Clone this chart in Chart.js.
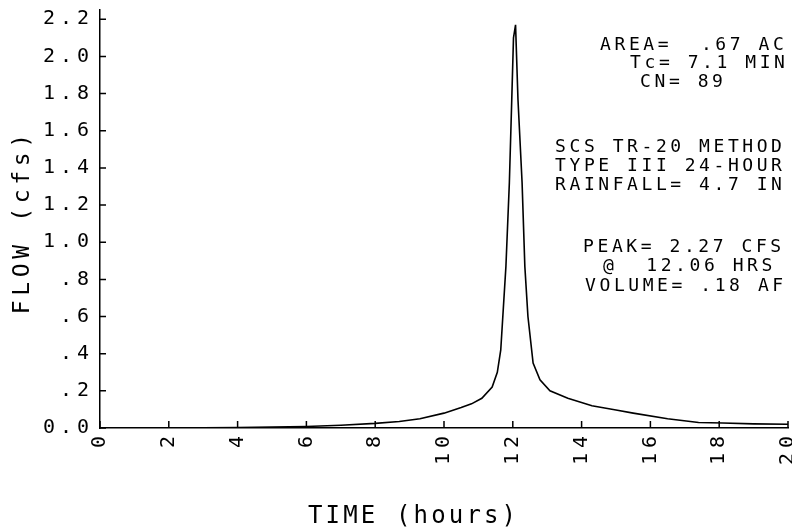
<!DOCTYPE html>
<html>
<head>
<meta charset="utf-8">
<script src="https://cdn.jsdelivr.net/npm/chart.js@4/dist/chart.umd.min.js"></script>
<style>
  body { margin: 0; background: #fff; }
  #wrap { width: 792px; height: 532px; position: relative; }
</style>
</head>
<body>
<div id="wrap"><canvas id="hydro"></canvas></div>
<script>
// hydrograph (hours, cfs)
const timeHrs = [0, 2, 4, 5, 6, 7, 8, 8.7, 9.3, 10, 10.5, 10.8, 11.1, 11.4, 11.55, 11.65,
  11.8, 11.9, 11.97, 12.02, 12.08, 12.15, 12.27, 12.35, 12.44, 12.59, 12.79, 13.08,
  13.6, 14.3, 15, 15.5, 16.5, 17.4, 18.1, 19, 20];
const flowCfs = [0, 0, 0.002, 0.005, 0.008, 0.015, 0.025, 0.035, 0.05, 0.08, 0.11, 0.13,
  0.16, 0.22, 0.3, 0.42, 0.87, 1.32, 1.77, 2.1, 2.17, 1.77, 1.32, 0.87, 0.6, 0.35, 0.26,
  0.2, 0.16, 0.12, 0.097, 0.08, 0.05, 0.03, 0.027, 0.022, 0.02];

// text block on the right
const infoLines = ['AREA=  .67 AC', 'Tc= 7.1 MIN', 'CN= 89',
  'SCS TR-20 METHOD', 'TYPE III 24-HOUR', 'RAINFALL= 4.7 IN',
  'PEAK= 2.27 CFS', '@  12.06 HRS', 'VOLUME= .18 AF'];
const infoLeft = [600, 630, 640, 555, 555, 555, 583, 603, 585];
const infoTop = [45, 63, 82, 147, 166, 185, 247, 266, 286];

const MONO = '"DejaVu Sans Mono", monospace';

// draws text one char at a time at a fixed pitch (plotter look)
function plotText(ctx, str, x, y, pitch) {
    for (let i = 0; i < str.length; i++) {
        ctx.fillText(str[i], x + i * pitch, y);
    }
}

const plotterBits = {
    id: 'plotterBits',
    beforeDraw(chart) {
        chart.ctx.letterSpacing = '5px';
    },
    afterDraw(chart) {
        const ctx = chart.ctx;
        const xs = chart.scales.x, ys = chart.scales.y;
        const area = chart.chartArea;
        ctx.save();
        ctx.letterSpacing = '0px';
        ctx.strokeStyle = '#000';
        ctx.lineWidth = 1.5;
        // tick marks point inward
        ctx.beginPath();
        ys.ticks.forEach(t => {
            const y = ys.getPixelForValue(t.value);
            ctx.moveTo(area.left, y);
            ctx.lineTo(area.left + 6, y);
        });
        xs.ticks.forEach(t => {
            const x = xs.getPixelForValue(t.value);
            ctx.moveTo(x, area.bottom);
            ctx.lineTo(x, area.bottom - 7);
        });
        ctx.stroke();

        ctx.fillStyle = '#000';
        ctx.textAlign = 'center';
        ctx.textBaseline = 'middle';
        ctx.font = '18px ' + MONO;
        infoLines.forEach((s, i) => plotText(ctx, s, infoLeft[i] + 5.5, infoTop[i], 14.4));

        // axis titles
        ctx.font = '24px ' + MONO;
        const xt = 'TIME (hours)';
        plotText(ctx, xt, 412 - (xt.length - 1) * 17.6 / 2, 517, 17.6);

        const yt = 'FLOW (cfs)';
        ctx.font = '23px ' + MONO;
        ctx.translate(23, 224);
        ctx.rotate(-Math.PI / 2);
        plotText(ctx, yt, -(yt.length - 1) * 18.5 / 2, 0, 18.5);
        ctx.restore();
    }
};

const ctx = document.getElementById('hydro').getContext('2d');

new Chart(ctx, {
    type: 'scatter',
    data: {
        datasets: [{
            data: timeHrs.map((t, i) => ({ x: t, y: flowCfs[i] })),
            showLine: true,
            borderColor: '#000',
            borderWidth: 1.6,
            pointRadius: 0,
            tension: 0
        }]
    },
    options: {
        responsive: true,
        maintainAspectRatio: false,
        animation: false,
        layout: { autoPadding: false, padding: { left: 0, right: 4, top: 10, bottom: 0 } },
        plugins: { legend: { display: false }, tooltip: { enabled: false } },
        scales: {
            x: {
                type: 'linear',
                min: 0,
                max: 20,
                grid: { display: false, drawTicks: false },
                border: { display: true, color: '#000', width: 1.5 },
                ticks: {
                    stepSize: 2,
                    minRotation: 90,
                    maxRotation: 90,
                    padding: 3,
                    color: '#000',
                    font: { family: MONO, size: 20 }
                },
                afterFit: s => {
                    s.height = 104;
                    s.paddingLeft = 0;
                    s.paddingRight = 0;
                }
            },
            y: {
                min: 0,
                max: 2.25,
                grid: { display: false, drawTicks: false },
                border: { display: true, color: '#000', width: 1.5 },
                ticks: {
                    stepSize: 0.2,
                    includeBounds: false,
                    padding: 6,
                    color: '#000',
                    font: { family: MONO, size: 20 },
                    callback: v => {
                        const s = v.toFixed(1);
                        if (v === 0) return '0.0';
                        return v < 1 ? s.slice(1) : s;
                    }
                },
                afterFit: s => {
                    s.width = 100;
                    s.paddingTop = 0;
                    s.paddingBottom = 0;
                }
            }
        }
    },
    plugins: [plotterBits]
});
</script>
</body>
</html>
